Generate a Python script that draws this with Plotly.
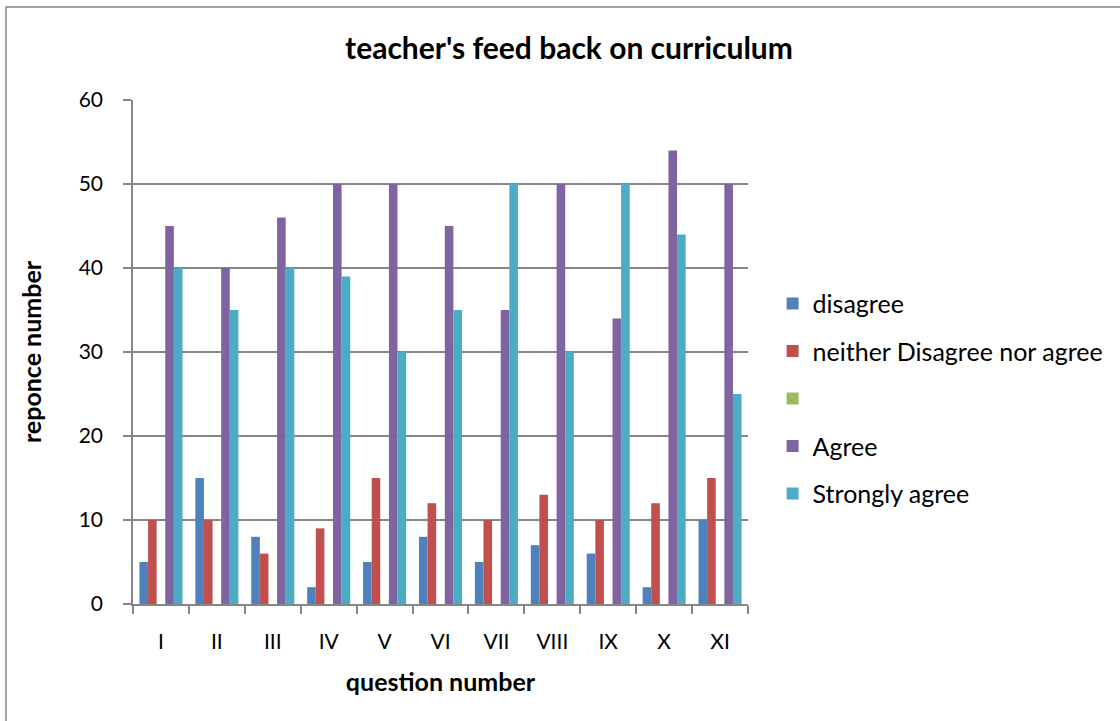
import plotly.graph_objects as go

categories = ["I", "II", "III", "IV", "V", "VI", "VII", "VIII", "IX", "X", "XI"]
disagree = [5, 15, 8, 2, 5, 8, 5, 7, 6, 2, 10]
neither = [10, 10, 6, 9, 15, 12, 10, 13, 10, 12, 15]
blank = [None] * 11
agree = [45, 40, 46, 50, 50, 45, 35, 50, 34, 54, 50]
strongly_agree = [40, 35, 40, 39, 30, 35, 50, 30, 50, 44, 25]

series_names = ["disagree", "neither Disagree nor agree", " ", "Agree", "Strongly agree"]
series_values = [disagree, neither, blank, agree, strongly_agree]
colors = ["#4F81BD", "#C0504D", "#9BBB59", "#8064A2", "#4BACC6"]

FONT = "Lato, Open Sans, sans-serif"

fig = go.Figure()
for i, (name, vals, c) in enumerate(zip(series_names, series_values, colors)):
    fig.add_trace(go.Bar(
        x=categories, y=vals, name=name, marker_color=c,
        marker_line_width=0, legendgroup=f"g{i}",
    ))

fig.update_layout(
    width=1120, height=721,
    paper_bgcolor="white", plot_bgcolor="white",
    margin=dict(l=133, r=372, t=100, b=117, autoexpand=False),
    barmode="group", bargap=0.23, bargroupgap=0,
    font=dict(family=FONT, size=21, color="black"),
    title=dict(text="<b>teacher's feed back on curriculum</b>", x=569/1120, xanchor="center",
               y=1 - 48/721, yanchor="middle", font=dict(size=30, family=FONT)),
    legend=dict(x=1.04, xanchor="left", y=0.407, yanchor="middle",
                font=dict(size=25, family=FONT), tracegroupgap=12,
                itemwidth=30, bgcolor="rgba(0,0,0,0)"),
    showlegend=True,
)
fig.update_xaxes(
    showline=True, linecolor="#868686", linewidth=1.5,
    ticks="outside", tickson="boundaries", ticklen=8, tickcolor="#868686", tickwidth=1.5,
    tickfont=dict(size=21), ticklabelstandoff=18,
    title=dict(text="<b>question number</b>", font=dict(size=25), standoff=22),
    showgrid=False,
)
fig.update_yaxes(
    range=[0, 60], dtick=10, showline=True, linecolor="#868686", linewidth=1.5,
    ticks="outside", ticklen=8, tickcolor="#868686", tickwidth=1.5,
    showgrid=True, gridcolor="#868686", gridwidth=1.5, zeroline=False,
    tickfont=dict(size=21), ticklabelstandoff=16,
    title=dict(text="<b>reponce number</b>", font=dict(size=25), standoff=30),
)
fig.add_shape(type="rect", xref="paper", yref="paper",
              x0=(6 - 133) / 615, x1=(1130 - 133) / 615,
              y0=-(730 - 604) / 504, y1=(604 - 7) / 504,
              line=dict(color="#868686", width=1.5), fillcolor="rgba(0,0,0,0)", layer="below")

fig.write_html("out.html", config={"displayModeBar": False},
               post_script="document.body.style.margin='0';")
